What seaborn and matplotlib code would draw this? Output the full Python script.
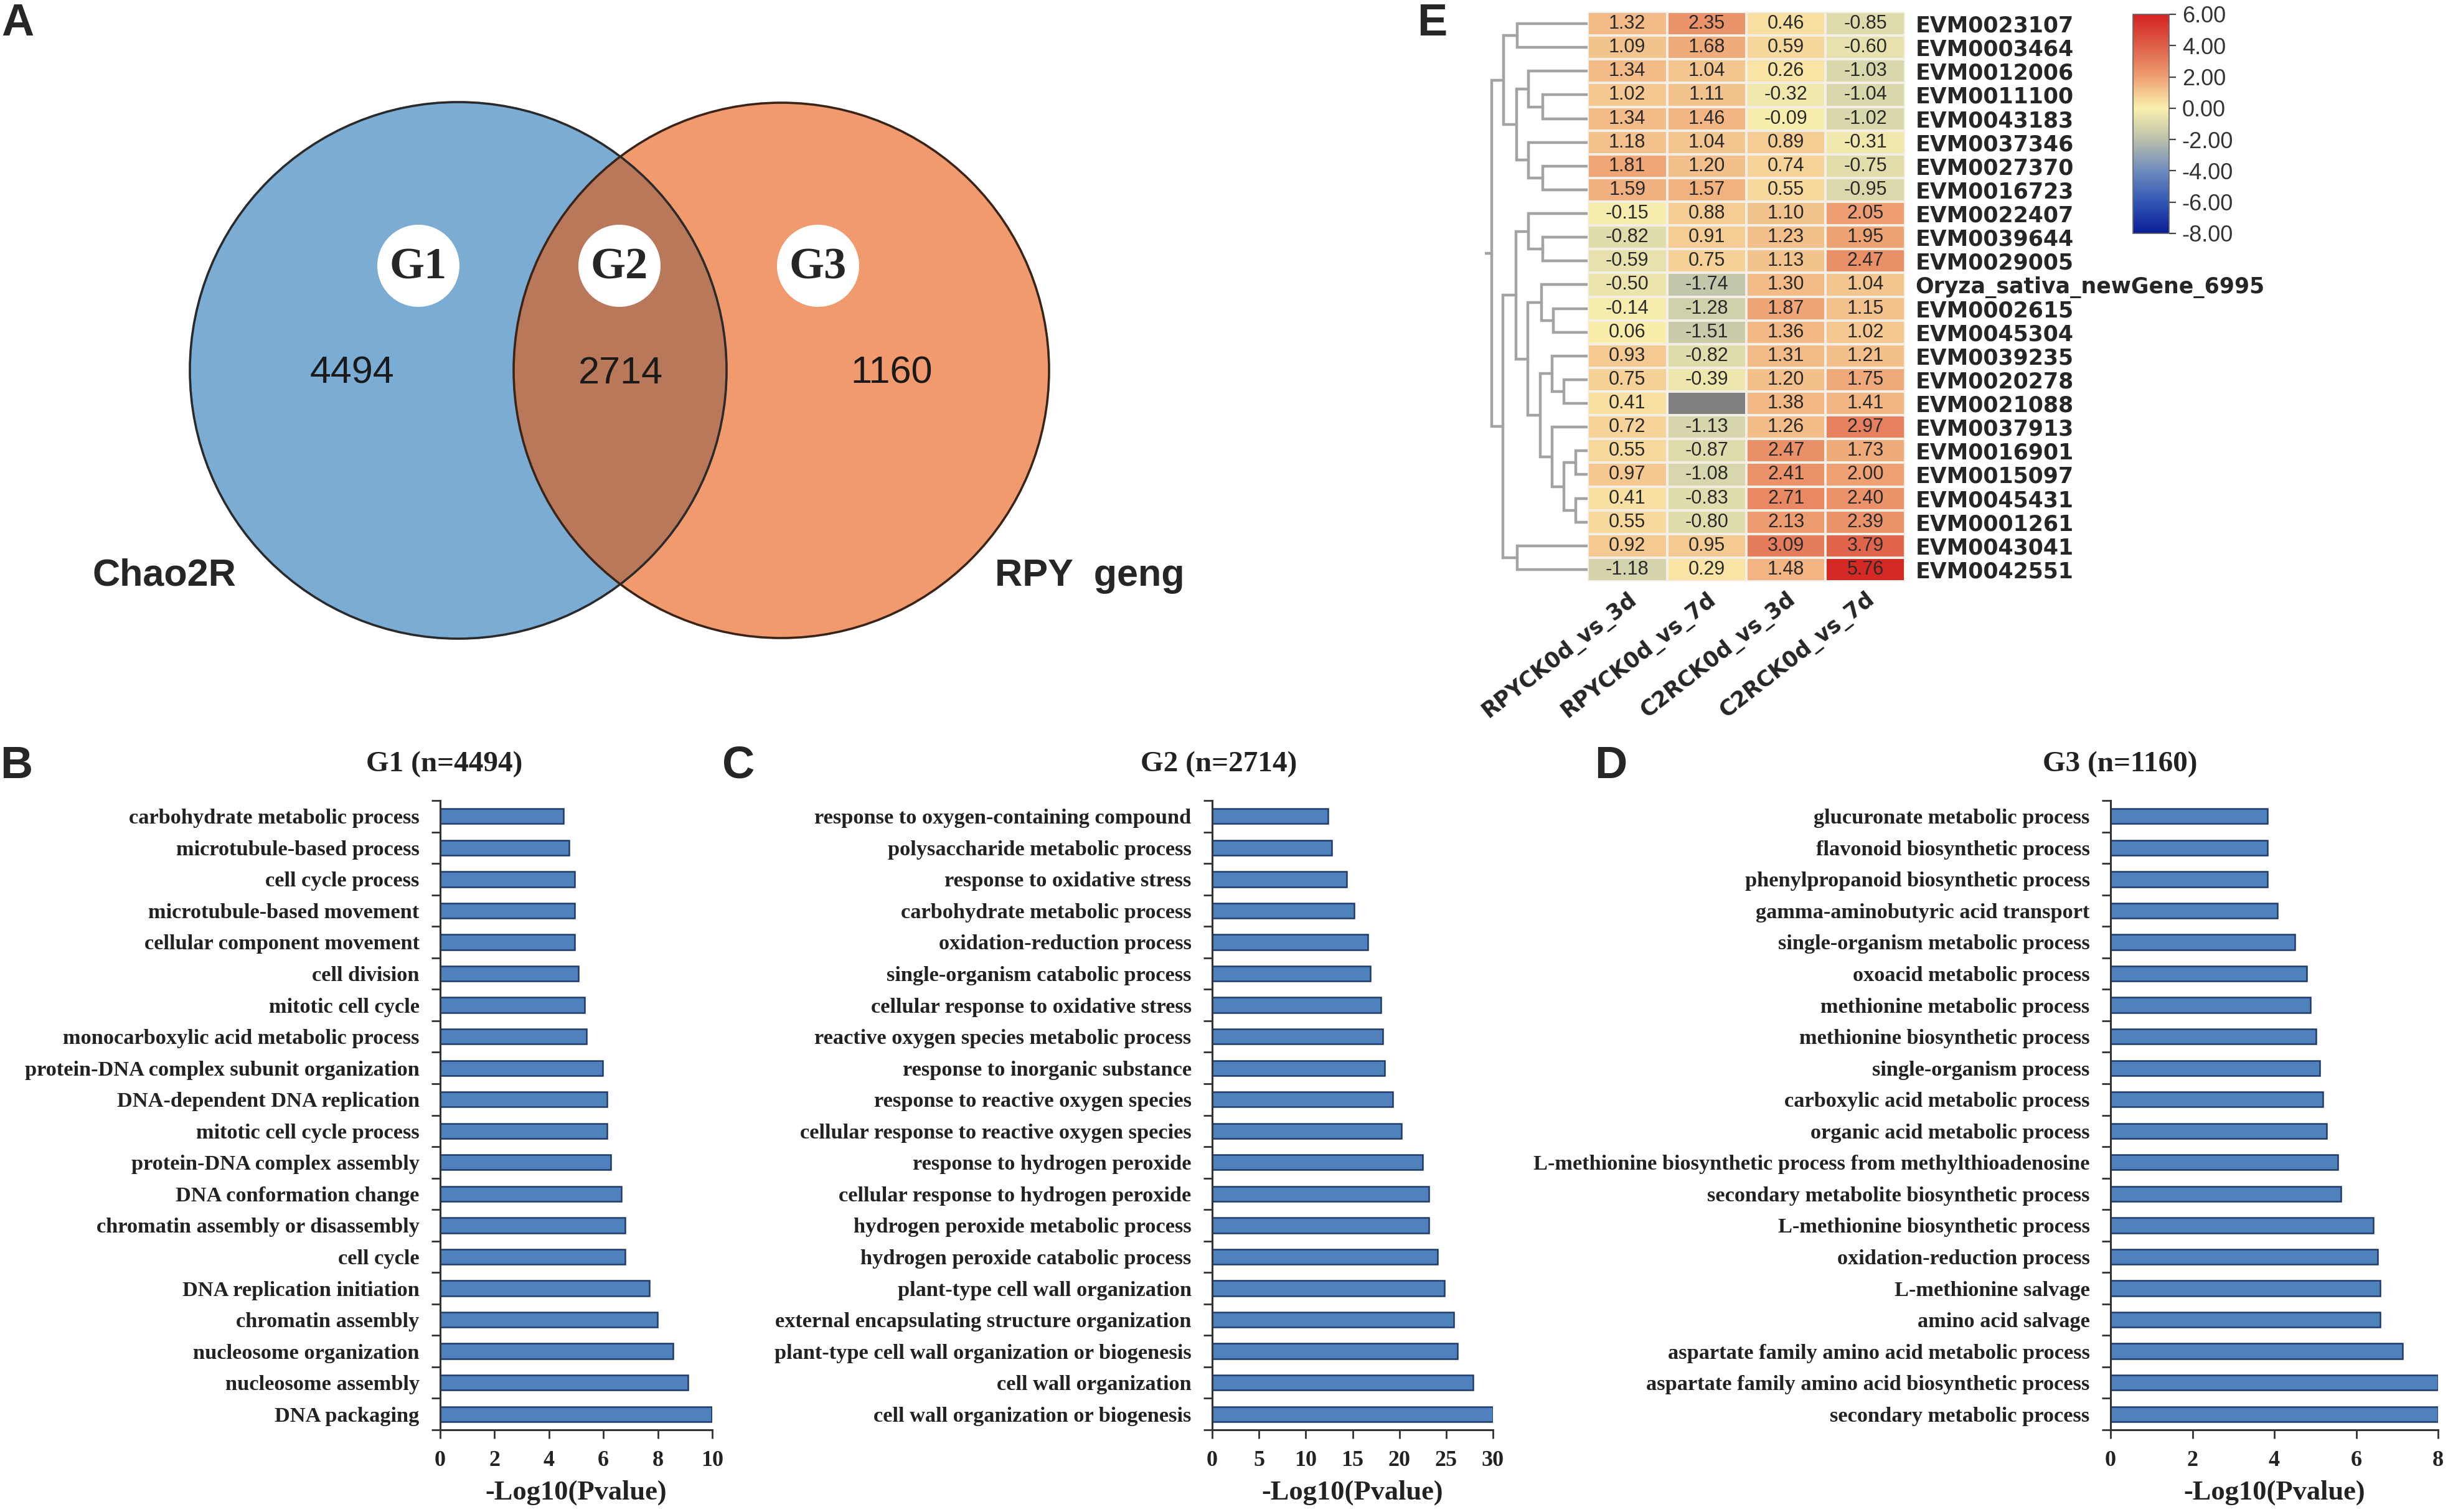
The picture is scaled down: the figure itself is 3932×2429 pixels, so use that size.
import numpy as np
import pandas as pd
import matplotlib
matplotlib.use("Agg")
import matplotlib.pyplot as plt
import seaborn as sns
from matplotlib.colors import LinearSegmentedColormap
from matplotlib.patches import Circle
from matplotlib.ticker import FixedLocator

# ---------------- data ----------------
venn_sets = ["Chao2R", "RPY  geng"]
venn_groups = ["G1", "G2", "G3"]
venn_counts = [4494, 2714, 1160]

g1_terms = ["carbohydrate metabolic process", "microtubule-based process", "cell cycle process",
            "microtubule-based movement", "cellular component movement", "cell division",
            "mitotic cell cycle", "monocarboxylic acid metabolic process",
            "protein-DNA complex subunit organization", "DNA-dependent DNA replication",
            "mitotic cell cycle process", "protein-DNA complex assembly", "DNA conformation change",
            "chromatin assembly or disassembly", "cell cycle", "DNA replication initiation",
            "chromatin assembly", "nucleosome organization", "nucleosome assembly", "DNA packaging"]
g1_vals = [4.53, 4.74, 4.95, 4.95, 4.95, 5.08, 5.3, 5.38, 5.97, 6.13,
           6.13, 6.28, 6.65, 6.8, 6.8, 7.7, 7.98, 8.55, 9.1, 9.97]

g2_terms = ["response to oxygen-containing compound", "polysaccharide metabolic process",
            "response to oxidative stress", "carbohydrate metabolic process",
            "oxidation-reduction process", "single-organism catabolic process",
            "cellular response to oxidative stress", "reactive oxygen species metabolic process",
            "response to inorganic substance", "response to reactive oxygen species",
            "cellular response to reactive oxygen species", "response to hydrogen peroxide",
            "cellular response to hydrogen peroxide", "hydrogen peroxide metabolic process",
            "hydrogen peroxide catabolic process", "plant-type cell wall organization",
            "external encapsulating structure organization",
            "plant-type cell wall organization or biogenesis", "cell wall organization",
            "cell wall organization or biogenesis"]
g2_vals = [12.35, 12.75, 14.4, 15.15, 16.65, 16.9, 18.0, 18.25, 18.4, 19.3,
           20.2, 22.5, 23.15, 23.15, 24.1, 24.8, 25.8, 26.2, 27.9, 30.0]

g3_terms = ["glucuronate metabolic process", "flavonoid biosynthetic process",
            "phenylpropanoid biosynthetic process", "gamma-aminobutyric acid transport",
            "single-organism metabolic process", "oxoacid metabolic process",
            "methionine metabolic process", "methionine biosynthetic process",
            "single-organism process", "carboxylic acid metabolic process",
            "organic acid metabolic process",
            "L-methionine biosynthetic process from methylthioadenosine",
            "secondary metabolite biosynthetic process", "L-methionine biosynthetic process",
            "oxidation-reduction process", "L-methionine salvage", "amino acid salvage",
            "aspartate family amino acid metabolic process",
            "aspartate family amino acid biosynthetic process", "secondary metabolic process"]
g3_vals = [3.84, 3.84, 3.84, 4.07, 4.5, 4.79, 4.88, 5.02, 5.11, 5.19,
           5.28, 5.55, 5.63, 6.42, 6.53, 6.59, 6.59, 7.14, 8.0, 8.0]

heat_rows = ["EVM0023107", "EVM0003464", "EVM0012006", "EVM0011100", "EVM0043183",
             "EVM0037346", "EVM0027370", "EVM0016723", "EVM0022407", "EVM0039644",
             "EVM0029005", "Oryza_sativa_newGene_6995", "EVM0002615", "EVM0045304",
             "EVM0039235", "EVM0020278", "EVM0021088", "EVM0037913", "EVM0016901",
             "EVM0015097", "EVM0045431", "EVM0001261", "EVM0043041", "EVM0042551"]
heat_cols = ["RPYCK0d_vs_3d", "RPYCK0d_vs_7d", "C2RCK0d_vs_3d", "C2RCK0d_vs_7d"]
rpy_3d = [1.32, 1.09, 1.34, 1.02, 1.34, 1.18, 1.81, 1.59, -0.15, -0.82, -0.59, -0.50,
          -0.14, 0.06, 0.93, 0.75, 0.41, 0.72, 0.55, 0.97, 0.41, 0.55, 0.92, -1.18]
rpy_7d = [2.35, 1.68, 1.04, 1.11, 1.46, 1.04, 1.20, 1.57, 0.88, 0.91, 0.75, -1.74,
          -1.28, -1.51, -0.82, -0.39, np.nan, -1.13, -0.87, -1.08, -0.83, -0.80, 0.95, 0.29]
c2r_3d = [0.46, 0.59, 0.26, -0.32, -0.09, 0.89, 0.74, 0.55, 1.10, 1.23, 1.13, 1.30,
          1.87, 1.36, 1.31, 1.20, 1.38, 1.26, 2.47, 2.41, 2.71, 2.13, 3.09, 1.48]
c2r_7d = [-0.85, -0.60, -1.03, -1.04, -1.02, -0.31, -0.75, -0.95, 2.05, 1.95, 2.47, 1.04,
          1.15, 1.02, 1.21, 1.75, 1.41, 2.97, 1.73, 2.00, 2.40, 2.39, 3.79, 5.76]
cbar_ticks = [6, 4, 2, 0, -2, -4, -6, -8]

# row dendrogram: (merge height, left, right), leaves are row positions
row_tree = (4.47,
            (3.93, (3.30, 0, 1),
                   (3.33, (2.75, 2, (2.10, 3, 4)), (2.75, 5, (2.10, 6, 7)))),
            (3.95, (3.35, (2.75, 8, (2.10, 9, 10)),
                          (2.80, (2.15, 11, (1.60, 12, 13)),
                                 (2.20, (1.65, 14, (1.10, 15, 16)),
                                        (1.65, 17, (1.10, (0.55, 18, 19), (0.55, 20, 21)))))),
                   (3.30, 22, 23)))

# ---------------- figure ----------------
W, H = 3932, 2429
DPI = 200
sns.set_style("white")
plt.rcParams["font.family"] = ["Liberation Sans", "DejaVu Sans"]
plt.rcParams["axes.unicode_minus"] = False

fig = plt.figure(figsize=(W / DPI, H / DPI), dpi=DPI)


def box(x0, y0, x1, y1):
    return [x0 / W, 1 - y1 / H, (x1 - x0) / W, (y1 - y0) / H]


def letter(x, y, s):
    fig.text(x / W, 1 - y / H, s, fontsize=26, fontweight="bold", ha="center", va="center")


# ---- A: Venn ----
axv = fig.add_axes(box(0, 0, 2000, 1150))
axv.set_xlim(0, 2000)
axv.set_ylim(1150, 0)
axv.axis("off")
left_c = Circle((736, 595), 431, facecolor="#7aacd4", edgecolor="none")
right_c = Circle((1255, 595), 430, facecolor="#f09a6d", edgecolor="none")
axv.add_patch(left_c)
axv.add_patch(right_c)
mid = Circle((1255, 595), 430, facecolor="#b97859", edgecolor="none")
axv.add_patch(mid)
mid.set_clip_path(left_c)
axv.add_patch(Circle((736, 595), 431, fill=False, edgecolor="#2a2a2a", lw=1.3))
axv.add_patch(Circle((1255, 595), 430, fill=False, edgecolor="#3a2418", lw=1.3))
for gx, g, n, nx in zip([672, 995, 1314], venn_groups, venn_counts, [565, 997, 1432]):
    axv.add_patch(Circle((gx, 427), 66, facecolor="white", edgecolor="none"))
    axv.text(gx, 430, g, fontsize=26, fontweight="bold", family="Liberation Serif",
             ha="center", va="center")
    axv.text(nx, 600, str(n), fontsize=22, ha="center", va="center", color="#1a1a1a")
axv.text(264, 925, venn_sets[0], fontsize=22, fontweight="bold", ha="center", va="center")
axv.text(1750, 925, venn_sets[1], fontsize=22, fontweight="bold", ha="center", va="center")
letter(28, 38, "A")


# ---- B, C, D: GO bars ----
def go_bar(rect, terms, vals, xmax, step, title, title_x):
    ax = fig.add_axes(rect)
    df = pd.DataFrame({"term": terms, "val": vals})
    sns.barplot(data=df, x="val", y="term", orient="h", color="#4f81bd", saturation=1,
                edgecolor="#1f3b6b", linewidth=0.9, width=0.48, ax=ax)
    ax.set_xlim(0, xmax)
    ax.set_ylim(len(terms) - 0.5, -0.5)
    ax.set_xticks(np.arange(0, xmax + 0.01, step))
    ax.yaxis.set_minor_locator(FixedLocator(np.arange(-0.5, len(terms), 1)))
    ax.tick_params(axis="y", which="major", length=0, pad=12)
    ax.tick_params(axis="y", which="minor", left=True, length=5, width=1, color="#333")
    ax.tick_params(axis="x", bottom=True, length=5, width=1, color="#333", pad=7)
    for sp in ["top", "right"]:
        ax.spines[sp].set_visible(False)
    for sp in ["left", "bottom"]:
        ax.spines[sp].set_color("#333")
        ax.spines[sp].set_linewidth(1.1)
    for t in ax.get_yticklabels():
        t.set_fontfamily("Liberation Serif")
        t.set_fontweight("bold")
        t.set_fontsize(12.4)
        t.set_color("#222")
    for t in ax.get_xticklabels():
        t.set_fontfamily("Liberation Serif")
        t.set_fontweight("bold")
        t.set_fontsize(13)
        t.set_color("#222")
    ax.set_ylabel("")
    ax.set_xlabel("-Log10(Pvalue)", fontsize=16, fontweight="bold", family="Liberation Serif",
                  color="#222", labelpad=5)
    fig.text(title_x / W, 1 - 1228 / H, title, fontsize=17, fontweight="bold",
             family="Liberation Serif", ha="center", va="center", color="#222")
    return ax


titles = [f"{g} (n={n})" for g, n in zip(venn_groups, venn_counts)]
go_bar(box(707, 1286, 1144, 2297), g1_terms, g1_vals, 10, 2, titles[0], 714)
go_bar(box(1947, 1286, 2398, 2297), g2_terms, g2_vals, 30, 5, titles[1], 1958)
go_bar(box(3390, 1286, 3916, 2297), g3_terms, g3_vals, 8, 2, titles[2], 3405)
letter(26, 1231, "B")
letter(1186, 1231, "C")
letter(2587, 1231, "D")

# ---- E: heatmap ----
cmap = LinearSegmentedColormap.from_list("heat", [
    (0.0, "#0a1e96"), (1 / 7, "#3256b4"), (2 / 7, "#6e8cbe"), (3 / 7, "#bac0aa"),
    (4 / 7, "#faf0ae"), (5 / 7, "#eea073"), (6 / 7, "#de5f48"), (1.0, "#d42222")])

heat_df = pd.DataFrame({heat_cols[0]: rpy_3d, heat_cols[1]: rpy_7d,
                        heat_cols[2]: c2r_3d, heat_cols[3]: c2r_7d}, index=heat_rows)

axh = fig.add_axes(box(2550, 19, 3060, 934))
axc = fig.add_axes(box(3426, 23, 3484, 375))
sns.heatmap(heat_df, ax=axh, cmap=cmap, vmin=-8, vmax=6, annot=True, fmt=".2f",
            annot_kws=dict(fontsize=11, color="#2a2a2a"),
            linewidths=0.8, linecolor="#f3efe6", cbar_ax=axc,
            cbar_kws=dict(ticks=cbar_ticks, format="%.2f"))
axh.set_facecolor("#7f7f7f")
axh.yaxis.tick_right()
axh.tick_params(axis="both", length=0)
axh.tick_params(axis="y", pad=6)
axh.tick_params(axis="x", pad=4)
axh.set_yticklabels(heat_rows, rotation=0, fontsize=12.5, fontweight="bold",
                    family="DejaVu Sans")
axh.set_xticklabels(heat_cols, rotation=38, ha="right", va="top", rotation_mode="anchor",
                    fontsize=12.5, fontweight="bold", family="DejaVu Sans")
axh.set_xlabel("")
axh.set_ylabel("")

axc.tick_params(length=4, width=0.8, color="#444", labelsize=13, labelcolor="#333")
for sp in axc.spines.values():
    sp.set_linewidth(0.6)
    sp.set_color("#666")

# dendrogram
axd = fig.add_axes(box(2385, 19, 2550, 934))


def draw_tree(node):
    if not isinstance(node, tuple):
        return node + 0.5, 0.0
    h, a, b = node
    ya, ha = draw_tree(a)
    yb, hb = draw_tree(b)
    axd.plot([ha, h, h, hb], [ya, ya, yb, yb], color="#a3a3a3", lw=1.6,
             solid_joinstyle="miter")
    return (ya + yb) / 2, h


y_root, h_root = draw_tree(row_tree)
axd.plot([h_root, 4.8], [y_root, y_root], color="#a3a3a3", lw=1.6)
axd.set_xlim(4.8, 0)
axd.set_ylim(len(heat_rows), 0)
axd.axis("off")
letter(2300, 38, "E")

fig.savefig("out.png", dpi=DPI)
